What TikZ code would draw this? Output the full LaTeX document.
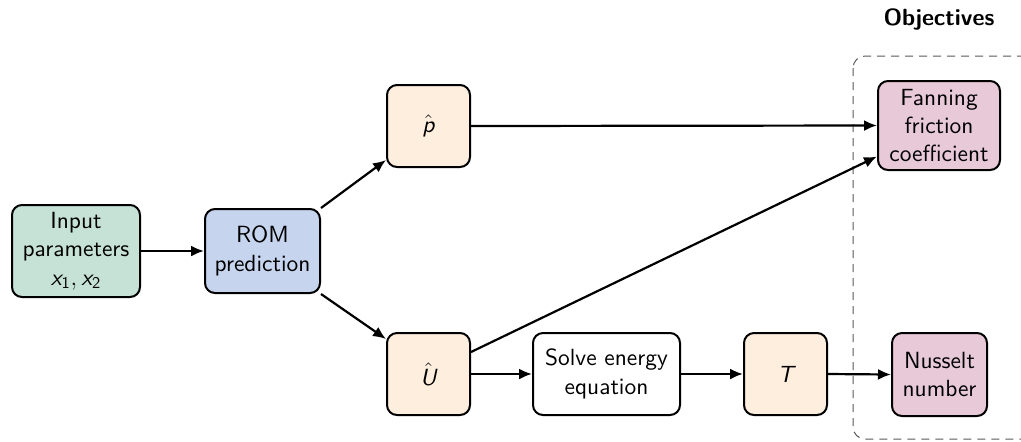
\documentclass[tikz,border=0pt]{standalone}
\usepackage{amsmath}
\usepackage{fontspec}
\setsansfont{lmsans10-regular.otf}[BoldFont=lmsans10-bold.otf,ItalicFont=lmsans10-oblique.otf,SlantedFont=lmsans10-oblique.otf,BoldItalicFont=lmsans10-boldoblique.otf]
\usetikzlibrary{arrows.meta,calc}
\definecolor{ingreen}{RGB}{198,226,215}
\definecolor{romblue}{RGB}{198,212,238}
\definecolor{beige}{RGB}{253,238,222}
\definecolor{pinkobj}{RGB}{231,201,216}
\newcommand{\sv}[1]{\text{\sffamily\itshape #1}}
\begin{document}
\begin{tikzpicture}[x=0.5pt,y=-0.5pt,
  box/.style={draw=black,line width=1pt,rounded corners=5pt,align=center,inner sep=1pt,
    font=\sffamily\fontsize{11.7pt}{14.2pt}\selectfont},
  arr/.style={line width=1.1pt,-{Latex[length=6.5pt,width=5.5pt]}}]
\clip (0,0) rectangle (1021,441);
\useasboundingbox (0,0) rectangle (1021,441);
\draw[gray!70!black,dashed,line width=0.5pt,dash pattern=on 4pt off 3pt,rounded corners=6pt] (853,56) rectangle (1060,439);
\node[font=\sffamily\bfseries\fontsize{11.7pt}{13pt}\selectfont] (obj) at (939,20) {Objectives};
\node[box,fill=ingreen,minimum width=64pt,minimum height=46pt] (in) at (76,251) {Input\\parameters\\$\sv{x}_{\text{\sffamily 1}},\sv{x}_{\text{\sffamily 2}}$};
\node[box,fill=romblue,minimum width=57.5pt,minimum height=42pt] (rom) at (262.5,251) {ROM\\prediction};
\node[box,fill=beige,minimum width=41.5pt,minimum height=41pt] (phat) at (428.5,126) {$\hat{\sv{p}}$};
\node[box,fill=beige,minimum width=41.5pt,minimum height=41pt] (uhat) at (428.5,374) {$\hat{\sv{U}}$};
\node[box,fill=white,minimum width=73.5pt,minimum height=41pt] (solve) at (606.5,374) {Solve energy\\equation};
\node[box,fill=beige,minimum width=41.5pt,minimum height=41pt] (t) at (785.5,374) {$\sv{T}$};
\node[box,fill=pinkobj,minimum width=61pt,minimum height=44.5pt] (fan) at (939,125.5) {Fanning\\friction\\coefficient};
\node[box,fill=pinkobj,minimum width=47.5pt,minimum height=41.5pt] (nus) at (939.5,374.5) {Nusselt\\number};
\draw[arr] (in.east) -- (rom.west);
\draw[arr] (rom.north east) -- ([yshift=4pt]phat.south west);
\draw[arr] (rom.south east) -- ([yshift=-3.5pt]uhat.north west);
\draw[arr] (phat.east) -- (fan.west);
\draw[arr] ([yshift=11pt]uhat.east) -- ([yshift=-15.5pt]fan.west);
\draw[arr] (uhat.east) -- (solve.west);
\draw[arr] (solve.east) -- (t.west);
\draw[arr] (t.east) -- (nus.west);
\end{tikzpicture}
\end{document}
